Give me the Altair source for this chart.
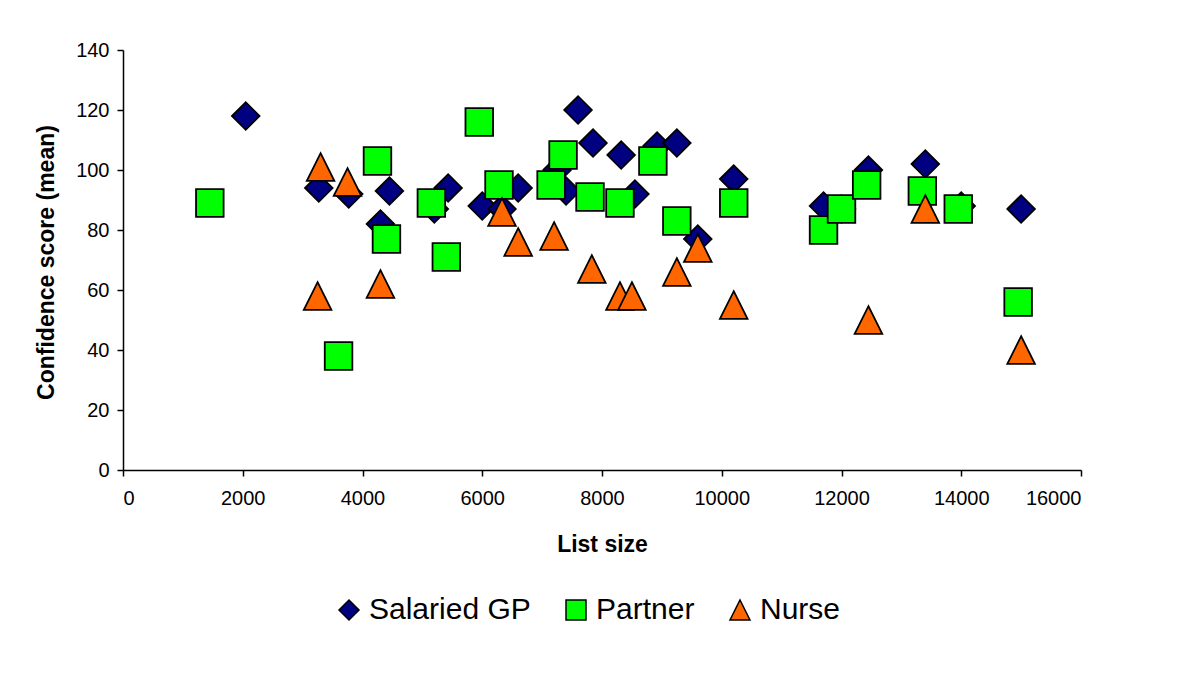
import altair as alt
import pandas as pd

# Salaried GP (diamonds)
gp_x = [2050, 3270, 3770, 4450, 4300, 5430, 5200, 6000, 6330, 6600, 7250, 7400,
        7600, 7850, 8320, 8550, 8920, 9250, 9600, 10200, 11700, 12000, 12450,
        13400, 14000, 15000]
gp_y = [118, 94, 92, 93, 82, 94, 87, 88, 87, 94, 100, 93,
        120, 109, 105, 92, 108, 109, 77, 97, 88, 87, 100,
        102, 88, 87]

# Partner (squares)
pa_x = [1450, 4250, 4400, 3600, 5150, 5400, 5950, 6280, 7350, 7150, 7800, 8300,
        8850, 9250, 10200, 11700, 12000, 12420, 13350, 13950, 14950]
pa_y = [89, 103, 77, 38, 89, 71, 116, 95, 105, 95, 91, 89,
        103, 83, 89, 80, 87, 95, 93, 87, 56]

# Nurse (triangles)
nu_x = [3300, 3750, 3250, 4300, 6330, 6600, 7200, 7830, 8300, 8500, 9250, 9600,
        10200, 12450, 13400, 15000]
nu_y = [101, 96, 58, 62, 86, 76, 78, 67, 58, 58, 66, 74,
        55, 50, 87, 40]

groups = ["Salaried GP", "Partner", "Nurse"]
colors = ["#000080", "#00FF00", "#FF6600"]
tri = "M0,-1L1,1L-1,1Z"
shapes = ["diamond", "square", tri]

rows = []
for g, xs, ys in [("Salaried GP", gp_x, gp_y), ("Partner", pa_x, pa_y), ("Nurse", nu_x, nu_y)]:
    for x, y in zip(xs, ys):
        rows.append({"List size": x, "Confidence score (mean)": y, "Group": g})
df = pd.DataFrame(rows)

font = "Liberation Sans"

legend = alt.Legend(
    title=None, orient="none", direction="horizontal", legendX=211, legendY=545,
    symbolStrokeColor="black", symbolStrokeWidth=1.5,
    labelFont=font, labelFontSize=30, labelColor="black", symbolSize=400,
    labelOffset=5, columnPadding=30, padding=0, labelLimit=400,
)

chart = alt.Chart(df).mark_point(
    filled=True, size=760, stroke="black", strokeWidth=1.8, opacity=1
).encode(
    x=alt.X("List size:Q",
            scale=alt.Scale(domain=[0, 16000], nice=False),
            axis=alt.Axis(values=list(range(0, 16001, 2000)), grid=False, format="d",
                          title="List size", titleY=81, titleBaseline="alphabetic",
                          labelPadding=12)),
    y=alt.Y("Confidence score (mean):Q",
            scale=alt.Scale(domain=[0, 140], nice=False),
            axis=alt.Axis(values=list(range(0, 141, 20)), grid=False, format="d",
                          title="Confidence score (mean)", titleX=-70, titleY=212,
                          titleBaseline="alphabetic", labelPadding=8)),
    color=alt.Color("Group:N", scale=alt.Scale(domain=groups, range=colors), legend=legend),
    shape=alt.Shape("Group:N", scale=alt.Scale(domain=groups, range=shapes), legend=legend),
).properties(
    width=958, height=420,
    autosize=alt.AutoSizeParams(type="none"),
    padding={"left": 115, "top": 42, "right": 100, "bottom": 200},
).configure_view(
    stroke=None
).configure_axis(
    domainColor="black", domainWidth=1.5, tickColor="black", tickWidth=1.5,
    tickSize=6, labelFont=font, labelFontSize=20, labelColor="black",
    titleFont=font, titleFontSize=23, titleFontWeight="bold", titleColor="black"
)

chart.save("out.html", embed_options={"renderer": "svg", "actions": False})
